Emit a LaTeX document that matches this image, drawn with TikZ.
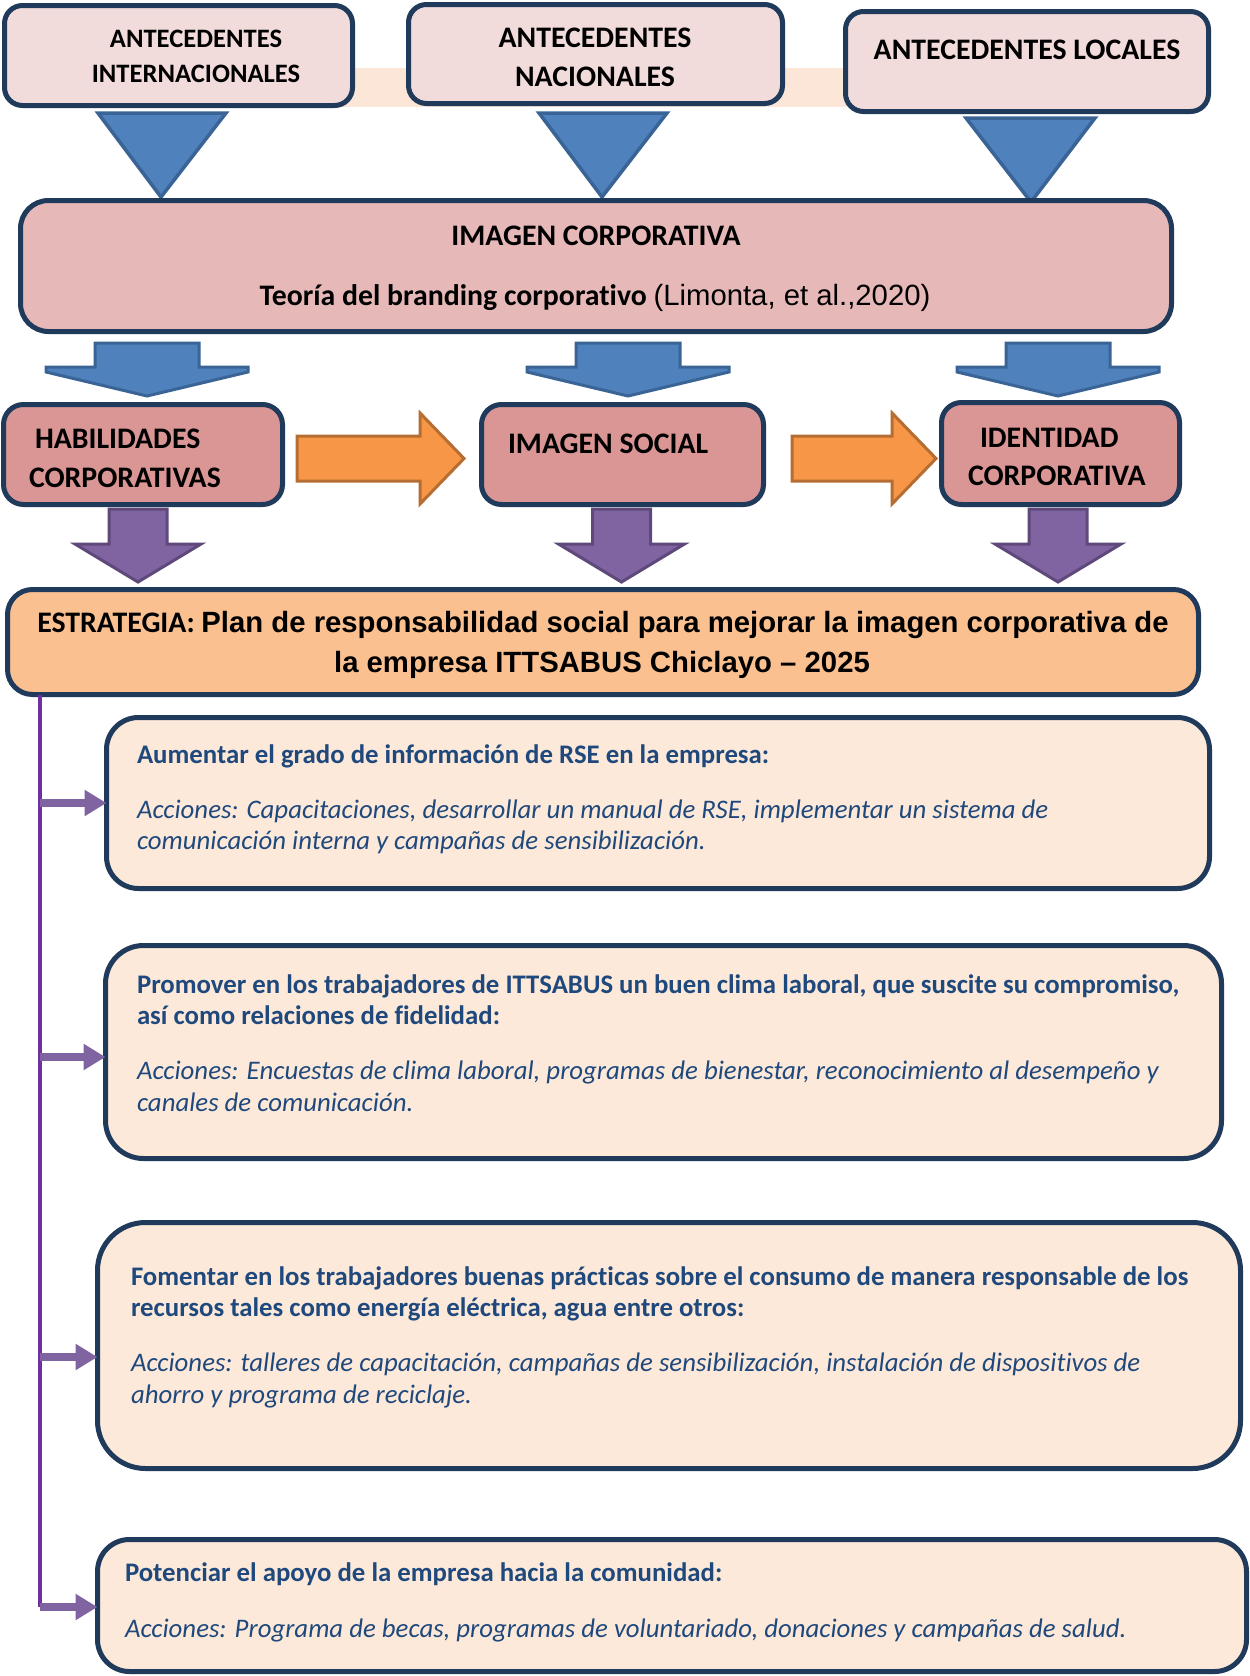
\documentclass[tikz,border=0pt]{standalone}
\usepackage{fontspec}
\setmainfont{Carlito}[Ligatures=NoCommon]
\newfontfamily\arialfont{Liberation Sans}
\usetikzlibrary{arrows.meta}
\definecolor{bordc}{HTML}{1F3A5A}
\definecolor{toppink}{HTML}{F2DCDB}
\definecolor{icpink}{HTML}{E6B9B8}
\definecolor{midpink}{HTML}{D99694}
\definecolor{estorange}{HTML}{FAC090}
\definecolor{peach}{HTML}{FDE9D9}
\definecolor{bandc}{HTML}{FCE6D8}
\definecolor{bluef}{HTML}{4F81BD}
\definecolor{blueb}{HTML}{3A6496}
\definecolor{orangef}{HTML}{F79646}
\definecolor{orangeb}{HTML}{B66D31}
\definecolor{purplef}{HTML}{8064A2}
\definecolor{purpleb}{HTML}{5F497A}
\definecolor{vlinec}{HTML}{7030A0}
\definecolor{txtblue}{HTML}{1F497D}
% name, x1, y1, x2, y2, fill, radius
\newcommand\rbox[7]{%
  \node[box, fill=#6, rounded corners=#7pt,
        minimum width={(#4-#2-5)*1pt}, minimum height={(#5-#3-5)*1pt}]
        (#1) at ({#2+2.5},{#3+2.5}) {};}
\newcommand\bluedown[1]{%
  \draw[bluearrow, shift={(#1,0)}] (-52,343) -- (52,343) -- (52,367) -- (101,367) -- (101,372)
    -- (0,396) -- (-101,372) -- (-101,367) -- (-52,367) -- cycle;}
\newcommand\purpledown[1]{%
  \draw[purplearrow, shift={(#1,0)}] (-29,509) -- (29,509) -- (29,544) -- (63,544)
    -- (0,582) -- (-63,544) -- (-29,544) -- cycle;}
% x0, xh, xt
\newcommand\orangeright[3]{%
  \draw[orangearrow] (#1,436) -- (#2,436) -- (#2,413) -- (#3,458.5) -- (#2,504)
    -- (#2,481) -- (#1,481) -- cycle;}
\begin{document}
\begin{tikzpicture}[x=1pt, y=-1pt,
  box/.style={draw=bordc, line width=5pt, inner sep=0pt, outer sep=0pt, anchor=north west},
  tri/.style={fill=bluef, draw=blueb, line width=3.5pt, line join=miter},
  bluearrow/.style={fill=bluef, draw=blueb, line width=3pt, line join=miter},
  purplearrow/.style={fill=purplef, draw=purpleb, line width=3pt, line join=miter},
  orangearrow/.style={fill=orangef, draw=orangeb, line width=3pt, line join=miter},
  hd/.style={inner sep=0pt, outer sep=0pt, font=\fontsize{29.8}{39}\selectfont\bfseries},
  hdsmall/.style={inner sep=0pt, outer sep=0pt, font=\fontsize{26.6}{35}\selectfont\bfseries},
  ar/.style={inner sep=0pt, outer sep=0pt, font=\fontsize{29.3}{39}\selectfont\bfseries\arialfont},
  bt/.style={inner sep=0pt, outer sep=0pt, anchor=base west, text=txtblue,
             font=\fontsize{26.8}{31.5}\selectfont},
  vline/.style={draw=vlinec, line width=4.5pt},
  parr/.style={draw=purplef, line width=8pt, -{Triangle[length=22pt,width=25pt]}}
]
\useasboundingbox (0,0) rectangle (1250,1676);
\fill[white] (0,0) rectangle (1250,1676);

% band behind top boxes
\fill[bandc] (340,68) rectangle (860,107);

% top boxes
\rbox{tb1}{2}{3}{355}{108}{toppink}{18}
\rbox{tb2}{406}{2}{785}{106}{toppink}{18}
\rbox{tb3}{843}{9}{1211}{114}{toppink}{18}
\node[hdsmall, anchor=base] (t1a) at (196,47) {ANTECEDENTES};
\node[hdsmall, anchor=base] (t1b) at (196,82) {INTERNACIONALES};
\node[hd, anchor=base] (t2a) at (595,47) {ANTECEDENTES};
\node[hd, anchor=base] (t2b) at (595,86) {NACIONALES};
\node[hd, anchor=base] (t3a) at (1027,59) {ANTECEDENTES LOCALES};

% triangles
\draw[tri] (98,113) -- (226,113) -- (161,197) -- cycle;
\draw[tri] (539,113) -- (667,113) -- (602,197) -- cycle;
\draw[tri] (966,118) -- (1095,118) -- (1031,202) -- cycle;

% imagen corporativa
\rbox{ic}{18}{198}{1174}{334}{icpink}{28}
\node[hd, anchor=base] (ic1) at (596,245) {IMAGEN CORPORATIVA};
\node[hd, anchor=base] (ic2) at (595,305) {Teoría del branding corporativo {\arialfont\mdseries\fontsize{29.3}{39}\selectfont (Limonta, et al.,2020)}};

% blue block arrows
\bluedown{147}
\bluedown{628}
\bluedown{1058}

% second row
\rbox{hab}{1}{402}{285}{507}{midpink}{20}
\rbox{soc}{479}{402}{766}{507}{midpink}{20}
\rbox{ide}{939}{400}{1182}{507}{midpink}{20}
\node[hd, anchor=base west] (hab1) at (35,448) {HABILIDADES};
\node[hd, anchor=base west] (hab2) at (29,487) {CORPORATIVAS};
\node[hd, anchor=base west] (soc1) at (508,453) {IMAGEN SOCIAL};
\node[hd, anchor=base west] (ide1) at (980,447) {IDENTIDAD};
\node[hd, anchor=base west] (ide2) at (968,485) {CORPORATIVA};

% orange arrows
\orangeright{297}{420}{464}
\orangeright{792}{892}{936}

% purple arrows
\purpledown{138}
\purpledown{621.5}
\purpledown{1058}

% estrategia
\rbox{estr}{5}{587}{1201}{697}{estorange}{25}
\node[hd, anchor=base] (es1) at (603,632) {ESTRATEGIA: {\arialfont\fontsize{29.3}{39}\selectfont Plan de responsabilidad social para mejorar la imagen corporativa de}};
\node[ar, anchor=base] (es2) at (602,672) {la empresa ITTSABUS Chiclayo – 2025};

% bottom boxes
\rbox{b1}{104}{715}{1212}{891}{peach}{32}
\rbox{b2}{103}{943}{1224}{1161}{peach}{38}
\rbox{b3}{95}{1220}{1243}{1471}{peach}{48}
\rbox{b4}{95}{1537}{1249}{1674}{peach}{32}

\node[bt] (b1t) at (137,763) {\parbox[t]{1100pt}{\raggedright
  \textbf{Aumentar el grado de información de RSE en la empresa:}\\[23.5pt]
  \itshape Acciones: Capacitaciones, desarrollar un manual de RSE, implementar un sistema de\\
  comunicación interna y campañas de sensibilización.}};
\node[bt] (b2t) at (137,993) {\parbox[t]{1100pt}{\raggedright
  \textbf{Promover en los trabajadores de ITTSABUS un buen clima laboral, que suscite su compromiso,}\\
  \textbf{así como relaciones de fidelidad:}\\[23.5pt]
  \itshape Acciones: Encuestas de clima laboral, programas de bienestar, reconocimiento al desempeño y\\
  canales de comunicación.}};
\node[bt] (b3t) at (131,1285) {\parbox[t]{1100pt}{\raggedright
  \textbf{Fomentar en los trabajadores buenas prácticas sobre el consumo de manera responsable de los}\\
  \textbf{recursos tales como energía eléctrica, agua entre otros:}\\[23.5pt]
  \itshape Acciones: talleres de capacitación, campañas de sensibilización, instalación de dispositivos de\\
  ahorro y programa de reciclaje.}};
\node[bt] (b4t) at (125,1581) {\parbox[t]{1100pt}{\raggedright
  \textbf{Potenciar el apoyo de la empresa hacia la comunidad:}\\[24.5pt]
  \itshape Acciones: Programa de becas, programas de voluntariado, donaciones y campañas de salud.}};

% purple connector line and arrows
\coordinate (vx) at (40,0);
\coordinate (a1) at (40,803);
\coordinate (a2) at (40,1057);
\coordinate (a3) at (40,1357);
\coordinate (a4) at (40,1607);
\draw[vline] (estr.south -| vx) -- (a4);
\draw[parr] (a1) -- (a1 -| b1.west);
\draw[parr] (a2) -- (a2 -| b2.west);
\draw[parr] (a3) -- (a3 -| b3.west);
\draw[parr] (a4) -- (a4 -| b4.west);
\end{tikzpicture}
\end{document}
